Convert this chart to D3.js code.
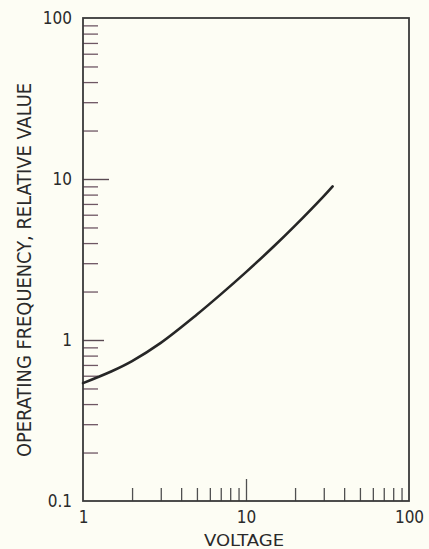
<!DOCTYPE html>
<html>
<head>
<meta charset="utf-8">
<script src="https://cdn.jsdelivr.net/npm/d3@7"></script>
<style>
  html, body { margin: 0; padding: 0; background: #fdfdf4; }
  svg { display: block; }
  text { font-family: "Liberation Sans Narrow", "DejaVu Sans Condensed", "Liberation Sans", sans-serif; fill: #2a2a2a; }
</style>
</head>
<body>
<svg id="chart" width="429" height="549"></svg>
<script>
// ---- data ----
const voltage   = [1, 1.5, 2, 3, 5, 7, 10, 15, 20, 30, 34];
const frequency = [0.54, 0.64, 0.74, 0.96, 1.44, 1.92, 2.64, 3.86, 5.13, 7.83, 9.0];
const xMajorTicks = [1, 10, 100];
const xMinorTicks = [2, 3, 4, 5, 6, 7, 8, 9, 20, 30, 40, 50, 60, 70, 80, 90];
const yMajorTicks = [0.1, 1, 10, 100];
const yMinorTicks = [0.2, 0.3, 0.4, 0.5, 0.6, 0.7, 0.8, 0.9, 2, 3, 4, 5, 6, 7, 8, 9, 20, 30, 40, 50, 60, 70, 80, 90];
const xTickLabels = ["1", "10", "100"];
const yTickLabels = ["0.1", "1", "10", "100"];
const xTitle = "VOLTAGE";
const yTitle = "OPERATING FREQUENCY, RELATIVE VALUE";

// ---- layout ----
const mLeft = 83, mRight = 409, mTop = 18, mBottom = 501;
const svg = d3.select("#chart");
svg.append("rect").attr("width", 429).attr("height", 549).attr("fill", "#fdfdf4");

const x = d3.scaleLog().domain([1, 100]).range([mLeft, mRight]);
const y = d3.scaleLog().domain([0.1, 100]).range([mBottom, mTop]);

// minor y ticks (inward)
const yMinorAxis = d3.axisLeft(y).tickValues(yMinorTicks).tickSize(-15).tickFormat("");
svg.append("g").attr("transform", `translate(${mLeft},0)`).call(yMinorAxis)
  .call(g => g.select(".domain").remove())
  .call(g => g.selectAll("line").attr("stroke", "#6e5663").attr("stroke-width", 1.3));

// major y ticks + labels
const yMajorAxis = d3.axisLeft(y).tickValues(yMajorTicks).tickSize(-24).tickPadding(11)
  .tickFormat((d, i) => yTickLabels[i]);
svg.append("g").attr("transform", `translate(${mLeft},0)`).call(yMajorAxis)
  .call(g => g.select(".domain").remove())
  .call(g => g.selectAll(".tick line")
    .attr("stroke", "#5a4a52").attr("stroke-width", 1.4)
    .attr("x2", d => (d === 10 ? 26 : d === 1 ? 21 : 0)))
  .call(g => g.selectAll("text").attr("font-size", 17).attr("fill", "#2a2a2a"));

// minor x ticks (inward)
const xMinorAxis = d3.axisBottom(x).tickValues(xMinorTicks).tickSize(-13).tickFormat("");
svg.append("g").attr("transform", `translate(0,${mBottom})`).call(xMinorAxis)
  .call(g => g.select(".domain").remove())
  .call(g => g.selectAll("line").attr("stroke", "#505050").attr("stroke-width", 1.3));

// major x ticks + labels
const xMajorAxis = d3.axisBottom(x).tickValues(xMajorTicks).tickSize(-22).tickPadding(10)
  .tickFormat((d, i) => xTickLabels[i]);
svg.append("g").attr("transform", `translate(0,${mBottom})`).call(xMajorAxis)
  .call(g => g.select(".domain").remove())
  .call(g => g.selectAll(".tick line")
    .attr("stroke", "#505050").attr("stroke-width", 1.3)
    .attr("y2", d => (d === 10 ? -22 : 0)))
  .call(g => g.selectAll("text").attr("font-size", 17).attr("fill", "#2a2a2a"));

// frame
svg.append("rect")
  .attr("x", mLeft).attr("y", mTop)
  .attr("width", mRight - mLeft).attr("height", mBottom - mTop)
  .attr("fill", "none").attr("stroke", "#3a3a3a").attr("stroke-width", 1.8);

// curve
const pts = voltage.map((v, i) => [v, frequency[i]]);
const line = d3.line().x(d => x(d[0])).y(d => y(d[1])).curve(d3.curveCatmullRom.alpha(0.5));
svg.append("path").datum(pts)
  .attr("d", line)
  .attr("fill", "none").attr("stroke", "#262626")
  .attr("stroke-width", 2.6).attr("stroke-linecap", "round");

// axis titles
svg.append("text")
  .attr("x", (mLeft + mRight) / 2 - 2).attr("y", 546)
  .attr("text-anchor", "middle").attr("font-size", 15)
  .attr("textLength", 80).attr("lengthAdjust", "spacingAndGlyphs")
  .text(xTitle);

svg.append("text")
  .attr("transform", "translate(31,270) rotate(-90)")
  .attr("text-anchor", "middle").attr("font-size", 19)
  .attr("textLength", 374).attr("lengthAdjust", "spacingAndGlyphs")
  .text(yTitle);
</script>
</body>
</html>
